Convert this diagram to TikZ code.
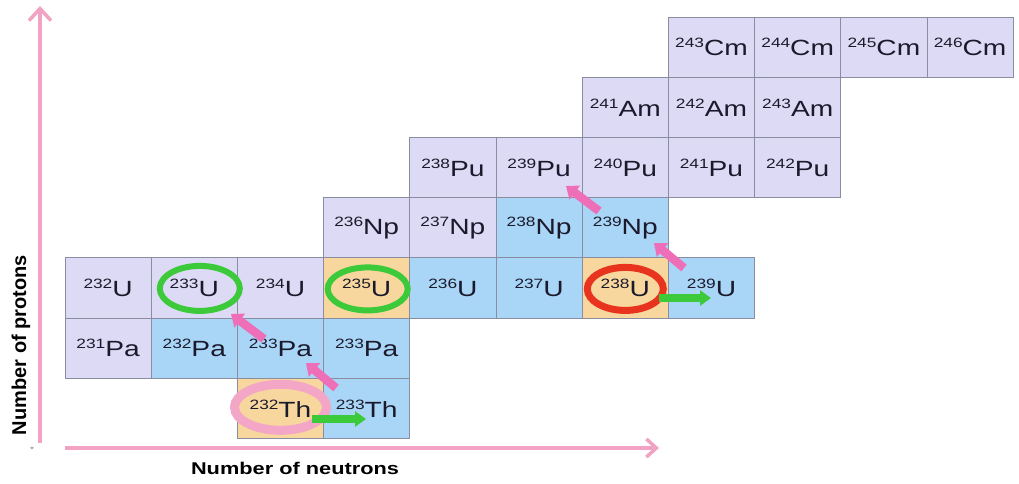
\documentclass[tikz,border=0pt]{standalone}
\usepackage{fontspec}
\setmainfont[FakeStretch=1.28]{Liberation Sans}
\newfontfamily\plainsans{Liberation Sans}
\usetikzlibrary{arrows.meta}
\definecolor{lav}{HTML}{DCDAF4}
\definecolor{sky}{HTML}{A9D5F6}
\definecolor{ora}{HTML}{F8D79E}
\definecolor{gridc}{HTML}{8A8CA0}
\definecolor{axisc}{HTML}{F2A2C2}
\definecolor{pinkarr}{HTML}{EE6EB8}
\definecolor{grn}{HTML}{3CC93A}
\definecolor{redc}{HTML}{E8341E}
\definecolor{pinkc}{HTML}{F3A6C6}
\definecolor{txt}{HTML}{1A1A2C}
\newcommand\iso[2]{\raisebox{8pt}{\fontsize{13.5}{13.5}\selectfont #1}#2}
\newcommand\cpos[2]{({65+86.2*(#1+0.5)},{17+60.2*(#2+0.5)})}
\begin{document}
\begin{tikzpicture}[x=1pt,y=-1pt,
  cell/.style={draw=gridc, line width=0.9pt, minimum width=86.2pt, minimum height=60.2pt,
    inner sep=0pt, font=\fontsize{22}{22}\selectfont, text=txt},
  lavcell/.style={cell, fill=lav},
  skycell/.style={cell, fill=sky},
  oracell/.style={cell, fill=ora},
  axisline/.style={draw=axisc, line width=3.5pt, -{Straight Barb[length=12pt,width=22pt,line width=3.5pt]}},
  decay/.style={draw=pinkarr, line width=8.5pt, -{Triangle[length=11pt,width=17pt]}},
  capture/.style={draw=grn, line width=7.5pt, -{Triangle[length=11pt,width=15pt]}},
  ring/.style={line width=6pt},
  axislabel/.style={font=\plainsans\bfseries\fontsize{20}{20}\selectfont, text=black}
]
\useasboundingbox (0,0) rectangle (1019,483);
\fill[white] (0,0) rectangle (1019,483);

% Cm row
\node[lavcell] (c243Cm) at \cpos{7}{0} {\iso{243}{Cm}};
\node[lavcell] (c244Cm) at \cpos{8}{0} {\iso{244}{Cm}};
\node[lavcell] (c245Cm) at \cpos{9}{0} {\iso{245}{Cm}};
\node[lavcell] (c246Cm) at \cpos{10}{0} {\iso{246}{Cm}};
% Am row
\node[lavcell] (c241Am) at \cpos{6}{1} {\iso{241}{Am}};
\node[lavcell] (c242Am) at \cpos{7}{1} {\iso{242}{Am}};
\node[lavcell] (c243Am) at \cpos{8}{1} {\iso{243}{Am}};
% Pu row
\node[lavcell] (c238Pu) at \cpos{4}{2} {\iso{238}{Pu}};
\node[lavcell] (c239Pu) at \cpos{5}{2} {\iso{239}{Pu}};
\node[lavcell] (c240Pu) at \cpos{6}{2} {\iso{240}{Pu}};
\node[lavcell] (c241Pu) at \cpos{7}{2} {\iso{241}{Pu}};
\node[lavcell] (c242Pu) at \cpos{8}{2} {\iso{242}{Pu}};
% Np row
\node[lavcell] (c236Np) at \cpos{3}{3} {\iso{236}{Np}};
\node[lavcell] (c237Np) at \cpos{4}{3} {\iso{237}{Np}};
\node[skycell] (c238Np) at \cpos{5}{3} {\iso{238}{Np}};
\node[skycell] (c239Np) at \cpos{6}{3} {\iso{239}{Np}};
% U row
\node[lavcell] (c232U) at \cpos{0}{4} {\iso{232}{U}};
\node[lavcell] (c233U) at \cpos{1}{4} {\iso{233}{U}};
\node[lavcell] (c234U) at \cpos{2}{4} {\iso{234}{U}};
\node[oracell] (c235U) at \cpos{3}{4} {\iso{235}{U}};
\node[skycell] (c236U) at \cpos{4}{4} {\iso{236}{U}};
\node[skycell] (c237U) at \cpos{5}{4} {\iso{237}{U}};
\node[oracell] (c238U) at \cpos{6}{4} {\iso{238}{U}};
\node[skycell] (c239U) at \cpos{7}{4} {\iso{239}{U}};
% Pa row
\node[lavcell] (c231Pa) at \cpos{0}{5} {\iso{231}{Pa}};
\node[skycell] (c232Pa) at \cpos{1}{5} {\iso{232}{Pa}};
\node[skycell] (c233Pa) at \cpos{2}{5} {\iso{233}{Pa}};
\node[skycell] (c233Pab) at \cpos{3}{5} {\iso{233}{Pa}};
% Th row
\node[oracell] (c232Th) at \cpos{2}{6} {\iso{232}{Th}};
\node[skycell] (c233Th) at \cpos{3}{6} {\iso{233}{Th}};

% rings
\draw[ring, draw=grn] ([xshift=5.5pt,yshift=-0.5pt]c233U.center) ellipse [x radius=40pt, y radius=22.5pt];
\draw[ring, draw=grn] ([xshift=1pt,yshift=-1pt]c235U.center) ellipse [x radius=40pt, y radius=21.5pt];
\draw[ring, line width=7pt, draw=redc] ([xshift=0pt,yshift=-1pt]c238U.center) ellipse [x radius=38pt, y radius=21.5pt];
\draw[ring, line width=9pt, draw=pinkc] ([xshift=0pt,yshift=1pt]c232Th.center) ellipse [x radius=46pt, y radius=23pt];

% decay arrows (beta)
\coordinate (d1s) at (336,388); \coordinate (d1e) at (306,363);
\coordinate (d2s) at (264,339); \coordinate (d2e) at (231,314);
\coordinate (d3s) at (684,268); \coordinate (d3e) at (654,243);
\coordinate (d4s) at (599,211); \coordinate (d4e) at (566,186);
\draw[decay] (d1s) -- (d1e);
\draw[decay] (d2s) -- (d2e);
\draw[decay] (d3s) -- (d3e);
\draw[decay] (d4s) -- (d4e);

% neutron capture arrows
\coordinate (g1s) at (312,419); \coordinate (g1e) at (366,419);
\coordinate (g2s) at (659,298); \coordinate (g2e) at (711,298);
\draw[capture] (g1s) -- (g1e);
\draw[capture] (g2s) -- (g2e);

% axes
\coordinate (origin) at (40,443);
\coordinate (ytop) at (40,6);
\coordinate (xstart) at (65,448);
\coordinate (xend) at (659,448);
\draw[axisline] (origin) -- (ytop);
\draw[axisline, -{Straight Barb[length=10pt,width=18pt,line width=3.5pt]}] (xstart) -- (xend);
\node[font=\fontsize{8}{8}\selectfont, text=gray] (star) at (32,450) {*};

\node[axislabel, rotate=90] (ylab) at (21,345) {Number of protons};
\node[axislabel, font=\bfseries\fontsize{17}{17}\selectfont] (xlab) at (295,468) {Number of neutrons};
\end{tikzpicture}
\end{document}
